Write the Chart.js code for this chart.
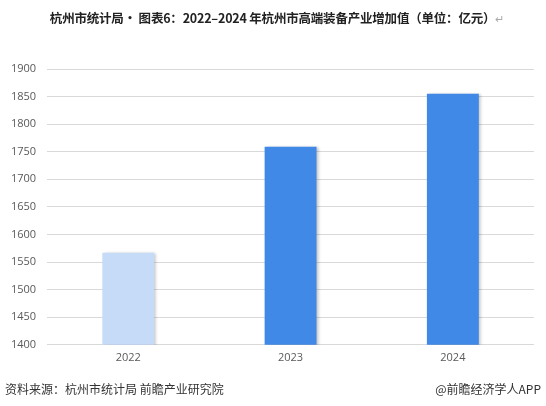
<!DOCTYPE html>
<html>
<head>
<meta charset="utf-8">
<script src="https://cdn.jsdelivr.net/npm/chart.js@4"></script>
<style>
  html, body { margin: 0; padding: 0; background: #fff; }
  body { width: 546px; height: 406px; position: relative; overflow: hidden; font-family: "Noto Sans CJK SC", sans-serif; }
  #title { position: absolute; left: 4px; width: 546px; top: 8px; text-align: center; font-size: 12.5px; font-weight: bold; color: #222; white-space: nowrap; letter-spacing: -0.2px; }
  #title .ret { color: #aaa; font-weight: normal; font-size: 11px; }
  #src { position: absolute; left: 5px; top: 380px; font-size: 12px; color: #333; white-space: nowrap; }
  #app { position: absolute; right: 5px; top: 380px; font-size: 12px; color: #333; white-space: nowrap; }
  #wrap { position: absolute; left: 0; top: 0; width: 546px; height: 406px; }
</style>
</head>
<body>
<div id="wrap"><canvas id="c" width="546" height="406"></canvas></div>
<div id="title">杭州市统计局· 图表6：2022–2024 年杭州市高端装备产业增加值（单位：亿元）<span class="ret">↵</span></div>
<div id="src">资料来源：杭州市统计局 前瞻产业研究院</div>
<div id="app">@前瞻经济学人APP</div>
<script>
const categories = ["2022", "2023", "2024"];
const values = [1567, 1759, 1855];
const barColors = ["#C6DBF8", "#4189E6", "#4189E6"];
const yTicks = [1400, 1450, 1500, 1550, 1600, 1650, 1700, 1750, 1800, 1850, 1900];

const shadowPlugin = {
  id: 'barShadow',
  beforeDatasetsDraw(chart) {
    const ctx = chart.ctx;
    ctx.save();
    ctx.shadowColor = 'rgba(0,0,0,0.25)';
    ctx.shadowBlur = 3;
    ctx.shadowOffsetX = 2;
    ctx.shadowOffsetY = 0;
  },
  afterDatasetsDraw(chart) {
    chart.ctx.restore();
  }
};

new Chart(document.getElementById('c'), {
  type: 'bar',
  data: {
    labels: categories,
    datasets: [{
      data: values,
      backgroundColor: barColors,
      borderWidth: 0,
      barPercentage: 0.32,
      categoryPercentage: 1.0
    }]
  },
  options: {
    responsive: false,
    animation: false,
    devicePixelRatio: 1,
    layout: { padding: { top: 69, left: 0, right: 12, bottom: 36 } },
    plugins: { legend: { display: false }, tooltip: { enabled: false }, title: { display: false } },
    scales: {
      x: {
        grid: { display: false, drawTicks: false },
        border: { display: false },
        ticks: { color: '#595959', font: { size: 11, family: 'Open Sans' }, padding: 6 }
      },
      y: {
        min: 1400,
        max: 1900,
        afterBuildTicks(axis) { axis.ticks = yTicks.map(v => ({ value: v })); },
        grid: { color: '#D9D9D9', lineWidth: 1, drawTicks: false },
        border: { display: false },
        ticks: { color: '#595959', font: { size: 11, family: 'Open Sans' }, padding: 11, callback: v => String(v) }
      }
    }
  },
  plugins: [shadowPlugin]
});
</script>
</body>
</html>
